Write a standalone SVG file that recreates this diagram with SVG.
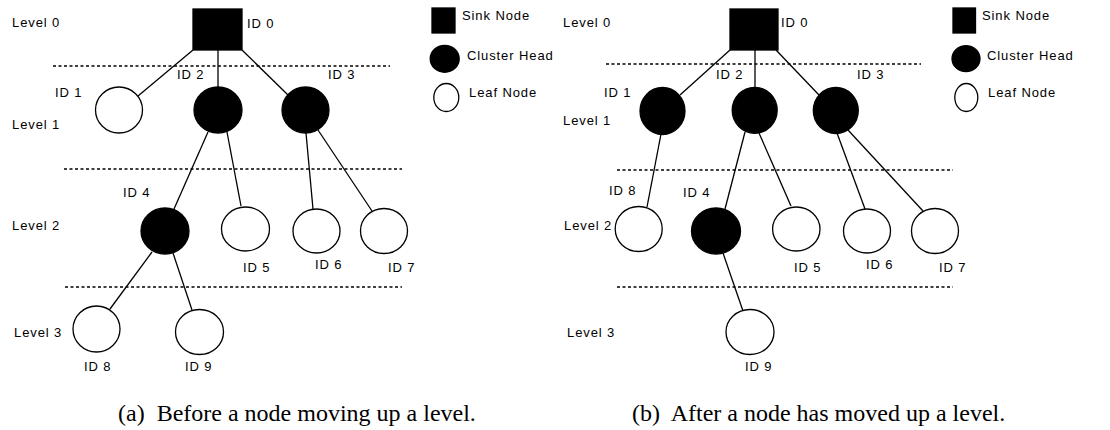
<svg xmlns="http://www.w3.org/2000/svg" width="1110" height="430" viewBox="0 0 1110 430">
  <style>
    .lbl { font-family: "Liberation Sans", Arial, sans-serif; font-size: 13px; letter-spacing: 0.9px; fill: #000; }
    .cap { font-family: "Liberation Serif", "Times New Roman", serif; font-size: 24px; fill: #000; }
    .sink { fill: #000; stroke: #000; stroke-width: 1.3; }
    .head { fill: #000; stroke: #000; stroke-width: 1.3; }
    .leaf { fill: #fff; stroke: #000; stroke-width: 1.3; }
    .edge { stroke: #000; stroke-width: 1.3; fill: none; }
    .level { stroke: #000; stroke-width: 1.3; stroke-dasharray: 3 2.5; fill: none; }
  </style>

  <!-- Panel (a): before a node moves up -->
  <g id="panel-a">
    <g id="a-levels">
      <line class="level" x1="53" y1="66" x2="390" y2="66"/>
      <line class="level" x1="64" y1="169" x2="402" y2="169"/>
      <line class="level" x1="65" y1="287" x2="402" y2="287"/>
      <text class="lbl" x="12" y="27">Level 0</text>
      <text class="lbl" x="12" y="129">Level 1</text>
      <text class="lbl" x="12" y="230">Level 2</text>
      <text class="lbl" x="14" y="337">Level 3</text>
    </g>
    <g id="a-connectors">
      <line class="edge" x1="193" y1="50" x2="138" y2="96"/>
      <line class="edge" x1="218" y1="50" x2="218" y2="87"/>
      <line class="edge" x1="242" y1="50" x2="288" y2="95"/>
      <line class="edge" x1="208" y1="132" x2="174" y2="209"/>
      <line class="edge" x1="227" y1="132" x2="241" y2="206"/>
      <line class="edge" x1="306" y1="133" x2="313" y2="209"/>
      <line class="edge" x1="318" y1="130" x2="372" y2="211"/>
      <line class="edge" x1="152" y1="252" x2="110" y2="309"/>
      <line class="edge" x1="173" y1="253" x2="192" y2="310"/>
    </g>
    <g id="a-id0"><rect class="sink" x="193" y="9" width="49" height="41"/><text class="lbl" x="247" y="28">ID 0</text></g>
    <g id="a-id1"><ellipse class="leaf" cx="119" cy="110" rx="23.5" ry="23"/><text class="lbl" x="55" y="97">ID 1</text></g>
    <g id="a-id2"><ellipse class="head" cx="218" cy="110" rx="24" ry="23"/><text class="lbl" x="177" y="79">ID 2</text></g>
    <g id="a-id3"><ellipse class="head" cx="305.5" cy="110" rx="23.5" ry="23"/><text class="lbl" x="328" y="79">ID 3</text></g>
    <g id="a-id4"><ellipse class="head" cx="165" cy="231" rx="24" ry="23"/><text class="lbl" x="123" y="197">ID 4</text></g>
    <g id="a-id5"><ellipse class="leaf" cx="245.5" cy="229" rx="24" ry="22"/><text class="lbl" x="243" y="272">ID 5</text></g>
    <g id="a-id6"><ellipse class="leaf" cx="316.5" cy="231" rx="23.5" ry="22"/><text class="lbl" x="315" y="269">ID 6</text></g>
    <g id="a-id7"><ellipse class="leaf" cx="384" cy="231" rx="23.5" ry="22.5"/><text class="lbl" x="388" y="272">ID 7</text></g>
    <g id="a-id8"><ellipse class="leaf" cx="96.5" cy="329" rx="23.5" ry="23"/><text class="lbl" x="84" y="371">ID 8</text></g>
    <g id="a-id9"><ellipse class="leaf" cx="199.5" cy="332" rx="24" ry="22.5"/><text class="lbl" x="185" y="371">ID 9</text></g>
    <g id="a-legend">
      <rect class="sink" x="432" y="8" width="23" height="25"/>
      <text class="lbl" x="462" y="20">Sink Node</text>
      <ellipse class="head" cx="444.7" cy="58.8" rx="14.5" ry="13.5"/>
      <text class="lbl" x="467" y="60">Cluster Head</text>
      <ellipse class="leaf" cx="446.3" cy="97.5" rx="12.5" ry="14"/>
      <text class="lbl" x="469" y="97">Leaf Node</text>
    </g>
    <text class="cap" x="118" y="421" xml:space="preserve">(a)  Before a node moving up a level.</text>
  </g>

  <!-- Panel (b): after a node has moved up -->
  <g id="panel-b">
    <g id="b-levels">
      <line class="level" x1="606" y1="64" x2="921" y2="64"/>
      <line class="level" x1="617" y1="170" x2="953" y2="170"/>
      <line class="level" x1="617" y1="287" x2="953" y2="287"/>
      <text class="lbl" x="563" y="27">Level 0</text>
      <text class="lbl" x="563" y="125">Level 1</text>
      <text class="lbl" x="564" y="230">Level 2</text>
      <text class="lbl" x="567" y="337">Level 3</text>
    </g>
    <g id="b-connectors">
      <line class="edge" x1="730" y1="50" x2="680" y2="95"/>
      <line class="edge" x1="755" y1="50" x2="755" y2="87"/>
      <line class="edge" x1="776" y1="50" x2="819" y2="95"/>
      <line class="edge" x1="661" y1="134" x2="647" y2="207"/>
      <line class="edge" x1="745" y1="132" x2="725" y2="209"/>
      <line class="edge" x1="759" y1="133" x2="791" y2="206"/>
      <line class="edge" x1="837" y1="133" x2="865" y2="209"/>
      <line class="edge" x1="848" y1="130" x2="923" y2="211"/>
      <line class="edge" x1="723" y1="253" x2="743" y2="311"/>
    </g>
    <g id="b-id0"><rect class="sink" x="730" y="9" width="48" height="41"/><text class="lbl" x="781" y="27">ID 0</text></g>
    <g id="b-id1"><ellipse class="head" cx="662.5" cy="111" rx="22.5" ry="23.5"/><text class="lbl" x="604" y="97">ID 1</text></g>
    <g id="b-id2"><ellipse class="head" cx="754.7" cy="110.3" rx="22.5" ry="23"/><text class="lbl" x="716" y="79">ID 2</text></g>
    <g id="b-id3"><ellipse class="head" cx="835.8" cy="110.5" rx="22.5" ry="23"/><text class="lbl" x="857" y="79">ID 3</text></g>
    <g id="b-id8"><ellipse class="leaf" cx="638.7" cy="229" rx="23.5" ry="22.5"/><text class="lbl" x="609" y="195">ID 8</text></g>
    <g id="b-id4"><ellipse class="head" cx="716" cy="231" rx="24.5" ry="23"/><text class="lbl" x="683" y="197">ID 4</text></g>
    <g id="b-id5"><ellipse class="leaf" cx="796.3" cy="229" rx="23.7" ry="22"/><text class="lbl" x="794" y="272">ID 5</text></g>
    <g id="b-id6"><ellipse class="leaf" cx="867" cy="231" rx="23.5" ry="22"/><text class="lbl" x="866" y="269">ID 6</text></g>
    <g id="b-id7"><ellipse class="leaf" cx="935" cy="231" rx="23.5" ry="22.5"/><text class="lbl" x="939" y="272">ID 7</text></g>
    <g id="b-id9"><ellipse class="leaf" cx="750" cy="332" rx="24" ry="22.5"/><text class="lbl" x="745" y="371">ID 9</text></g>
    <g id="b-legend">
      <rect class="sink" x="953" y="8" width="22.5" height="25"/>
      <text class="lbl" x="982" y="20">Sink Node</text>
      <ellipse class="head" cx="966" cy="58.7" rx="14" ry="13"/>
      <text class="lbl" x="987" y="60">Cluster Head</text>
      <ellipse class="leaf" cx="966.3" cy="97.5" rx="11.5" ry="14"/>
      <text class="lbl" x="988" y="97">Leaf Node</text>
    </g>
    <text class="cap" x="632" y="421" xml:space="preserve">(b)  After a node has moved up a level.</text>
  </g>
</svg>
